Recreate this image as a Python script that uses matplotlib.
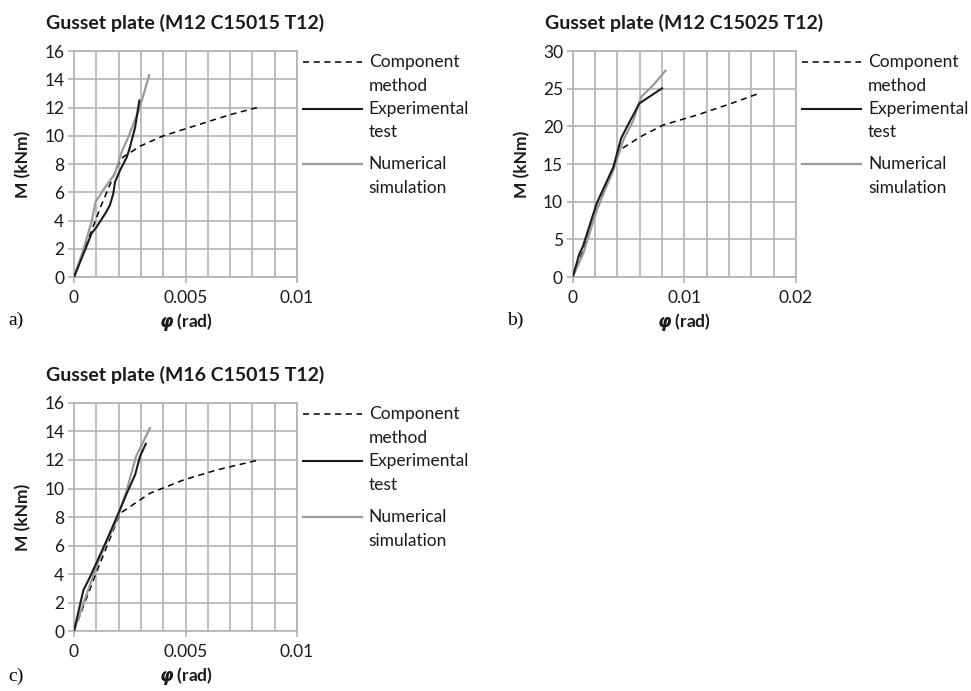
import numpy as np
import matplotlib
matplotlib.use('Agg')
import matplotlib.pyplot as plt
from matplotlib.lines import Line2D

plt.rcParams['font.family'] = ['Lato', 'DejaVu Sans']
plt.rcParams['mathtext.fontset'] = 'custom'
plt.rcParams['mathtext.bfit'] = 'DejaVu Sans:italic:bold'

# ---- panel a) M12 C15015 T12
a_comp_x = [0, 0.0006, 0.0012, 0.0016, 0.0020, 0.0022, 0.0030, 0.0040, 0.0050, 0.0060, 0.0070, 0.0082]
a_comp_y = [0, 2.5, 5.0, 6.5, 8.0, 8.5, 9.3, 10.0, 10.5, 11.0, 11.5, 12.0]
a_exp_x = [0, 0.00049, 0.00079, 0.00102, 0.00144, 0.00161, 0.00176, 0.00184, 0.00207, 0.00237, 0.00251, 0.00274, 0.00293]
a_exp_y = [0, 1.9, 3.1, 3.56, 4.6, 5.1, 5.9, 6.75, 7.58, 8.5, 9.2, 10.6, 12.5]
a_num_x = [0, 0.00042, 0.0008, 0.00096, 0.00131, 0.00184, 0.00214, 0.00244, 0.00296, 0.00337]
a_num_y = [0, 1.93, 4.0, 5.3, 6.16, 7.34, 8.87, 9.93, 12.05, 14.3]

# ---- panel b) M12 C15025 T12
b_comp_x = [0, 0.0010, 0.0020, 0.0030, 0.00424, 0.00603, 0.00812, 0.0111, 0.0141, 0.0167]
b_comp_y = [0, 3.8, 8.2, 12.2, 16.9, 18.6, 20.2, 21.5, 23.0, 24.4]
b_exp_x = [0, 0.0006, 0.0009, 0.00215, 0.00364, 0.00433, 0.00484, 0.00597, 0.0080]
b_exp_y = [0, 3.1, 4.0, 9.8, 14.6, 18.4, 19.9, 23.06, 25.06]
b_num_x = [0, 0.00096, 0.00215, 0.00364, 0.00454, 0.00543, 0.00612, 0.00722, 0.0083]
b_num_y = [0, 3.2, 8.9, 14.2, 18.2, 20.8, 23.9, 25.5, 27.4]

# ---- panel c) M16 C15015 T12
c_comp_x = [0, 0.0010, 0.00207, 0.00341, 0.00491, 0.0064, 0.00817]
c_comp_y = [0, 4.1, 8.26, 9.67, 10.6, 11.3, 11.96]
c_exp_x = [0, 0.00042, 0.00072, 0.00147, 0.00199, 0.00237, 0.00274, 0.00296, 0.00322]
c_exp_y = [0, 2.86, 3.8, 6.38, 8.26, 9.67, 10.96, 12.25, 13.14]
c_num_x = [0, 0.00057, 0.00117, 0.00192, 0.00237, 0.00278, 0.00341]
c_num_y = [0, 2.6, 5.2, 7.8, 9.9, 12.25, 14.24]

titles = ['Gusset plate (M12 C15015 T12)', 'Gusset plate (M12 C15025 T12)', 'Gusset plate (M16 C15015 T12)']
panel_tags = ['a)', 'b)', 'c)']
legend_labels = ['Component\nmethod', 'Experimental\ntest', 'Numerical\nsimulation']

GRID = '#b3b3b3'
EXP = '#1c1c1c'
NUM = '#9a9a9a'
TXT = '#1a1a1a'

fig = plt.figure(figsize=(9.71, 6.91), dpi=100)
axa = fig.add_axes([0.0762, 0.599, 0.2297, 0.327])
axb = fig.add_axes([0.5898, 0.599, 0.2300, 0.327])
axc = fig.add_axes([0.0762, 0.0868, 0.2297, 0.330])

panels = [
    (axa, a_comp_x, a_comp_y, a_exp_x, a_exp_y, a_num_x, a_num_y, 0.01, 0.001, 0.005, 16, 2, -0.19),
    (axb, b_comp_x, b_comp_y, b_exp_x, b_exp_y, b_num_x, b_num_y, 0.02, 0.002, 0.01, 30, 5, -0.19),
    (axc, c_comp_x, c_comp_y, c_exp_x, c_exp_y, c_num_x, c_num_y, 0.01, 0.001, 0.005, 16, 2, -0.20),
]

dash_style = dict(color='black', linewidth=1.1, linestyle=(0, (4, 3)))
exp_style = dict(color=EXP, linewidth=1.5)
num_style = dict(color=NUM, linewidth=1.6)

for i, (ax, cx, cy, ex, ey, nx, ny, xmax, xstep, xlab, ymax, ystep, tag_y) in enumerate(panels):
    ax.plot(cx, cy, zorder=3, **dash_style)
    ax.plot(nx, ny, zorder=4, **num_style)
    ax.plot(ex, ey, zorder=5, **exp_style)

    ax.set_xlim(0, xmax)
    ax.set_ylim(0, ymax)
    # labelled ticks (with a short outward mark) + unlabelled grid steps
    major = np.arange(0, xmax + xlab / 2, xlab)
    ax.set_xticks(major)
    ax.set_xticklabels(['%g' % v for v in major])
    ax.set_xticks(np.arange(0, xmax + xstep / 2, xstep), minor=True)
    yt = np.arange(0, ymax + ystep / 2, ystep)
    ax.set_yticks(yt)
    ax.set_yticklabels(['%d' % v for v in yt])
    ax.grid(True, which='both', color=GRID, linewidth=1.2)
    ax.set_axisbelow(True)
    for s in ax.spines.values():
        s.set_color(GRID)
        s.set_linewidth(1.2)
    ax.tick_params(which='major', length=4, width=1.2, color=GRID, labelsize=12.5, labelcolor=TXT)
    ax.tick_params(which='minor', length=0)
    ax.tick_params(axis='y', pad=3)
    ax.tick_params(axis='x', pad=5)

    ax.set_title(titles[i], fontsize=14, fontweight='bold', pad=16, color=TXT)
    ax.set_ylabel('M (kNm)', fontsize=12.5, fontweight='bold', labelpad=9, color=TXT)
    ax.set_xlabel(r'$\mathbfit{\varphi}$ (rad)', fontsize=12.5, fontweight='bold', labelpad=4, color=TXT)

    # legend drawn next to each panel, handle aligned with the first text line
    styles = [dash_style, exp_style, num_style]
    for k, yy in enumerate([0.951, 0.745, 0.50]):
        ax.add_line(Line2D([1.026, 1.29], [yy, yy], transform=ax.transAxes, clip_on=False, **styles[k]))
        for j, part in enumerate(legend_labels[k].split('\n')):
            ax.text(1.322, yy - j * 0.104, part, transform=ax.transAxes, fontsize=12.5,
                    va='center', ha='left', color=TXT)

    ax.text(-0.295, tag_y, panel_tags[i], transform=ax.transAxes, fontsize=14,
            family='Liberation Serif', va='center', ha='left')

plt.savefig('out.png', dpi=100)
